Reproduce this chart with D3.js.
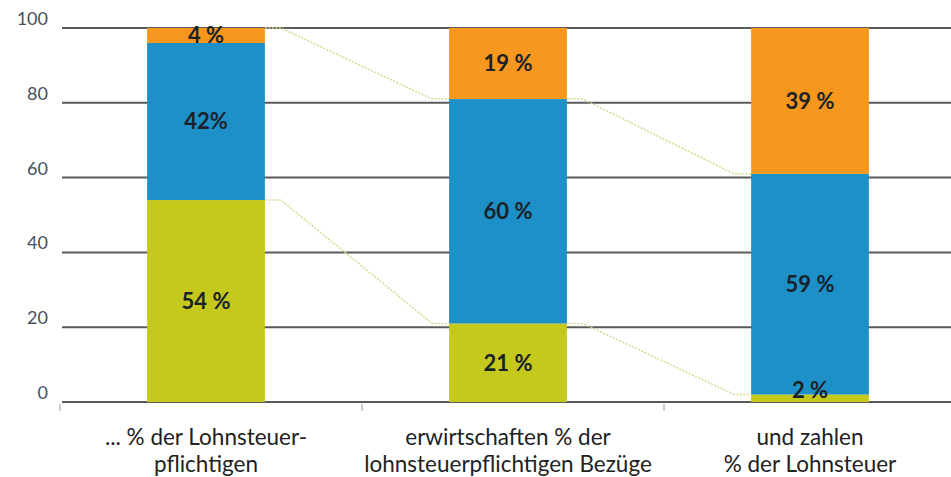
<!DOCTYPE html>
<html>
<head>
<meta charset="utf-8">
<script src="https://cdn.jsdelivr.net/npm/d3@7"></script>
<style>
  html, body { margin: 0; padding: 0; background: #fff; }
  svg { display: block; }
</style>
</head>
<body>
<svg id="chart" width="951" height="477"></svg>
<script>
// ---- data ----
const categories = ["c1", "c2", "c3"];
const categoryLines = [
  ["... % der Lohnsteuer-", "pflichtigen"],
  ["erwirtschaften % der", "lohnsteuerpflichtigen Bezüge"],
  ["und zahlen", "% der Lohnsteuer"]
];
const seriesNames = ["low", "mid", "high"];
const lowValues  = [54, 21, 2];
const midValues  = [42, 60, 59];
const highValues = [4, 19, 39];
const lowLabels  = ["54 %", "21 %", "2 %"];
const midLabels  = ["42%", "60 %", "59 %"];
const highLabels = ["4 %", "19 %", "39 %"];
const yTicks = [0, 20, 40, 60, 80, 100];
const connectorUpper = [100, 81, 61];
const connectorLower = [54, 21, 2];

const colors = { low: "#C4C91C", mid: "#1E90C8", high: "#F7971E" };

// ---- layout ----
const svg = d3.select("#chart");
const W = 951;
const y = d3.scaleLinear().domain([0, 100]).range([402, 28]);
const x = d3.scaleBand().domain(categories).range([55, 961]).paddingInner(0.61).paddingOuter(0.305);
const bw = x.bandwidth();
const step = x.step();

// gridlines
svg.append("g").selectAll("line").data(yTicks).join("line")
  .attr("x1", 62).attr("x2", W)
  .attr("y1", d => y(d)).attr("y2", d => y(d))
  .attr("stroke", "#5a5a5a").attr("stroke-width", 2);

// y tick labels
svg.append("g").selectAll("text").data(yTicks).join("text")
  .attr("x", 48).attr("y", d => y(d) - 3)
  .attr("text-anchor", "end")
  .attr("font-family", "Lato, 'Open Sans', sans-serif")
  .attr("font-size", 18)
  .attr("fill", "#45505e")
  .text(d => d);

// x axis small ticks at category boundaries
const bounds = categories.map(c => x(c) - (step - bw) / 2 + 5);
svg.append("g").selectAll("line").data(bounds).join("line")
  .attr("x1", d => d).attr("x2", d => d)
  .attr("y1", 404).attr("y2", 411)
  .attr("stroke", "#9a9a9a").attr("stroke-width", 1);

// stacked data
const rows = categories.map((c, i) => ({ cat: c, low: lowValues[i], mid: midValues[i], high: highValues[i] }));
const labelMap = { low: lowLabels, mid: midLabels, high: highLabels };
const stack = d3.stack().keys(seriesNames)(rows);

// connectors (series lines)
function connector(vals) {
  const segs = [];
  for (let i = 0; i < vals.length - 1; i++) {
    const xa = x(categories[i]) + bw, xb = x(categories[i + 1]);
    segs.push([[xa, y(vals[i])], [xa + 16, y(vals[i])], [xb - 17, y(vals[i + 1])], [xb, y(vals[i + 1])]]);
  }
  return segs;
}
const line = d3.line();
svg.append("g").selectAll("path")
  .data(connector(connectorUpper).concat(connector(connectorLower)))
  .join("path")
  .attr("d", line)
  .attr("fill", "none")
  .attr("stroke", "#d8d890")
  .attr("stroke-width", 1.5)
  .attr("stroke-dasharray", "2,1.5");

// bars
const layers = svg.append("g").selectAll("g").data(stack).join("g")
  .attr("fill", d => colors[d.key]);
layers.selectAll("rect").data(d => d).join("rect")
  .attr("x", d => x(d.data.cat))
  .attr("width", bw)
  .attr("y", d => y(d[1]))
  .attr("height", d => y(d[0]) - y(d[1]));

// labels
const labelG = svg.append("g");
stack.forEach(layer => {
  layer.forEach((d, i) => {
    const mid = (y(d[0]) + y(d[1])) / 2;
    const cy = Math.min(mid, y(0) - 12);
    labelG.append("text")
      .attr("x", x(d.data.cat) + bw / 2)
      .attr("y", cy)
      .attr("dy", "0.36em")
      .attr("text-anchor", "middle")
      .attr("font-family", "Lato, 'Open Sans', sans-serif")
      .attr("font-weight", "bold")
      .attr("font-size", 22)
      .attr("fill", "#1a2229")
      .text(labelMap[layer.key][i]);
  });
});

// category labels
const catG = svg.append("g");
categories.forEach((c, i) => {
  categoryLines[i].forEach((t, j) => {
    catG.append("text")
      .attr("x", x(c) + bw / 2)
      .attr("y", 445 + j * 27)
      .attr("text-anchor", "middle")
      .attr("font-family", "Lato, 'Open Sans', sans-serif")
      .attr("font-size", 22.5)
      .attr("fill", "#222")
      .text(t);
  });
});
</script>
</body>
</html>
